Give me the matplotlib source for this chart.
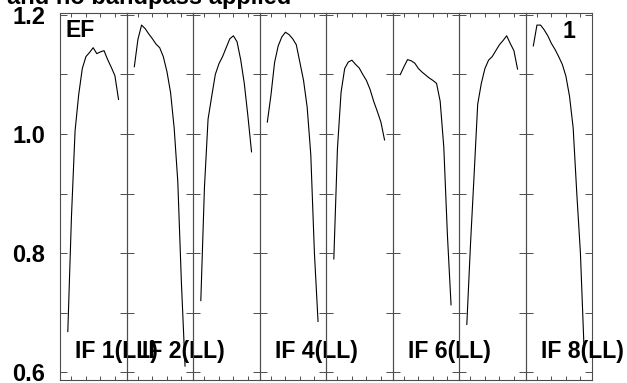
import matplotlib
matplotlib.use("Agg")
import matplotlib.pyplot as plt

plt.rcParams["font.family"] = ["Liberation Sans", "DejaVu Sans"]

# Channel numbers and bandpass amplitudes, one list per IF
channels = list(range(1, 16))
if1 = [0.668, 0.86, 1.005, 1.066, 1.11, 1.13, 1.137, 1.145, 1.135, 1.138, 1.14, 1.125, 1.112, 1.098, 1.058]
if2 = [1.113, 1.159, 1.183, 1.177, 1.168, 1.160, 1.151, 1.145, 1.13, 1.105, 1.07, 1.01, 0.92, 0.75, 0.61]
if3 = [0.72, 0.91, 1.025, 1.063, 1.10, 1.118, 1.13, 1.145, 1.16, 1.165, 1.155, 1.125, 1.085, 1.03, 0.97]
if4 = [1.02, 1.065, 1.12, 1.148, 1.163, 1.171, 1.167, 1.16, 1.15, 1.12, 1.09, 1.045, 0.965, 0.80, 0.685]
if5 = [0.79, 0.975, 1.07, 1.11, 1.121, 1.124, 1.117, 1.111, 1.10, 1.09, 1.075, 1.055, 1.038, 1.02, 0.99]
if6 = [1.10, 1.113, 1.125, 1.123, 1.119, 1.11, 1.104, 1.099, 1.094, 1.09, 1.085, 1.055, 0.978, 0.83, 0.713]
if7 = [0.68, 0.813, 0.93, 1.05, 1.085, 1.11, 1.124, 1.13, 1.14, 1.15, 1.157, 1.165, 1.152, 1.14, 1.109]
if8 = [1.148, 1.183, 1.183, 1.175, 1.165, 1.152, 1.142, 1.13, 1.117, 1.097, 1.063, 1.01, 0.90, 0.80, 0.64]
all_ifs = [if1, if2, if3, if4, if5, if6, if7, if8]

# only some of the IF names survive in the picture
if_labels = ["IF 1(LL)", "IF 2(LL)", "", "IF 4(LL)", "", "IF 6(LL)", "", "IF 8(LL)"]

y_ticks = [0.6, 0.7, 0.8, 0.9, 1.0, 1.1, 1.2]
y_tick_labels = ["0.6", "", "0.8", "", "1.0", "", "1.2"]
x_ticks = [2, 6, 10, 14]

frame_col = "0.3"

fig, axes = plt.subplots(1, 8, sharey=True, figsize=(6.27, 3.83), dpi=100)
fig.subplots_adjust(left=0.0957, right=0.9442, bottom=0.0078, top=0.9648, wspace=0)

for ax, vals, lab in zip(axes, all_ifs, if_labels):
    ax.set_facecolor("none")
    ax.plot(channels, vals, color="black", lw=0.8)
    ax.set_xlim(-1.155, 17.2)
    ax.set_ylim(0.5866, 1.2025)
    ax.set_xticks(x_ticks)
    ax.set_xticklabels([])
    ax.tick_params(axis="x", direction="in", top=True, bottom=True,
                   length=3, width=0.7, color=frame_col)
    ax.tick_params(axis="y", direction="in", left=True, right=True,
                   length=5, width=0.7, color=frame_col)
    for sp in ax.spines.values():
        sp.set_color(frame_col)
        sp.set_linewidth(0.8)
    if lab:
        ax.text(0.226, 0.059, lab, transform=ax.transAxes, fontsize=16.6,
                fontweight="bold", va="baseline", ha="left")

axes[0].set_yticks(y_ticks)
axes[0].set_yticklabels(y_tick_labels, fontsize=17, fontweight="bold")
axes[0].tick_params(axis="y", pad=10.5)

axes[0].text(0.09, 0.936, "EF", transform=axes[0].transAxes, fontsize=16.6,
             fontweight="bold", va="baseline", ha="left")
axes[7].text(0.744, 0.932, "1", transform=axes[7].transAxes, fontsize=16.6,
             fontweight="bold", va="baseline", ha="right")

# title line mostly cut off by the top of the image
fig.text(7 / 627, 1 - 4 / 383, "and no bandpass applied", fontsize=17,
         fontweight="bold", va="baseline", ha="left")

fig.savefig("out.png", dpi=100)
